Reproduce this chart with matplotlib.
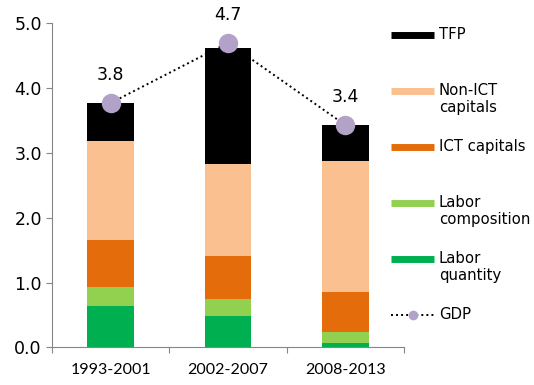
import matplotlib
matplotlib.use("Agg")
import matplotlib.pyplot as plt
from matplotlib.lines import Line2D
import numpy as np

# data
periods = ["1993-2001", "2002-2007", "2008-2013"]
labor_quantity = [0.63, 0.49, 0.07]
labor_composition = [0.30, 0.25, 0.16]
ict_capitals = [0.72, 0.67, 0.62]
non_ict_capitals = [1.54, 1.42, 2.03]
tfp = [0.58, 1.79, 0.55]
gdp = [3.77, 4.70, 3.43]
gdp_labels = ["3.8", "4.7", "3.4"]

components = [
    ("Labor\nquantity", labor_quantity, "#00b050"),
    ("Labor\ncomposition", labor_composition, "#92d050"),
    ("ICT capitals", ict_capitals, "#e46c0a"),
    ("Non-ICT\ncapitals", non_ict_capitals, "#fac090"),
    ("TFP", tfp, "#000000"),
]
gdp_color = "#b3a2c7"
axis_gray = "#868686"

plt.rcParams['font.family'] = 'DejaVu Sans'

fig = plt.figure(figsize=(5.34, 3.85), dpi=100)
ax = fig.add_axes([52/534, 1-347.3/385, 352/534, 324/385])

x = np.arange(len(periods))
bottom = np.zeros(len(periods))
for name, vals, col in components:
    ax.bar(x, vals, width=0.40, bottom=bottom, color=col, linewidth=0, zorder=2)
    bottom += np.array(vals)

ax.plot(x, gdp, color="black", linestyle=(0, (1, 1.6)), linewidth=1.4,
        marker="o", markersize=14, markerfacecolor=gdp_color,
        markeredgewidth=0, zorder=3)
for xi, yi, lab in zip(x, gdp, gdp_labels):
    ax.annotate(lab, (xi, yi), xytext=(0, 20), textcoords="offset points",
                ha="center", va="center", fontsize=12.5, annotation_clip=False)

ax.set_xlim(-0.5, 2.5)
ax.set_ylim(0, 5)
ax.set_yticks(np.arange(0, 5.01, 1.0))
ax.set_yticklabels([f"{v:.1f}" for v in np.arange(0, 5.01, 1.0)], fontsize=12.5)
ax.tick_params(axis="y", length=4.3, width=0.8, color=axis_gray, pad=3)

ax.set_xticks(x)
ax.set_xticklabels(periods, fontsize=11.5, family="Lato")
ax.set_xticks([-0.5, 0.5, 1.5, 2.5], minor=True)
ax.tick_params(axis="x", which="major", length=0, pad=11)
ax.tick_params(axis="x", which="minor", length=4.5, width=0.8, color=axis_gray)

for side in ["top", "right"]:
    ax.spines[side].set_visible(False)
for side in ["left", "bottom"]:
    ax.spines[side].set_color(axis_gray)
    ax.spines[side].set_linewidth(0.8)

# legend drawn by hand so swatches line up with the first text line
legend_rows = [("TFP", "#000000"), ("Non-ICT\ncapitals", "#fac090"),
               ("ICT capitals", "#e46c0a"), ("Labor\ncomposition", "#92d050"),
               ("Labor\nquantity", "#00b050")]
W, H = 534, 385
y_px = 35
for name, col in legend_rows:
    fig.add_artist(Line2D([391/W, 434/W], [1-y_px/H, 1-y_px/H],
                          color=col, linewidth=5, solid_capstyle="butt"))
    fig.text(439/W, 1-(y_px-8)/H, name, ha="left", va="top", fontsize=10.7,
             linespacing=1.15)
    y_px += 56
fig.add_artist(Line2D([391/W, 434/W], [1-y_px/H, 1-y_px/H], color="black",
                      linestyle=(0, (1, 1.6)), linewidth=1.4))
fig.add_artist(Line2D([412.5/W], [1-y_px/H], marker="o", markersize=7,
                      markerfacecolor=gdp_color, markeredgewidth=0, linestyle="none"))
fig.text(439/W, 1-(y_px-8)/H, "GDP", ha="left", va="top", fontsize=10.7)

fig.savefig("out.png", dpi=100)
